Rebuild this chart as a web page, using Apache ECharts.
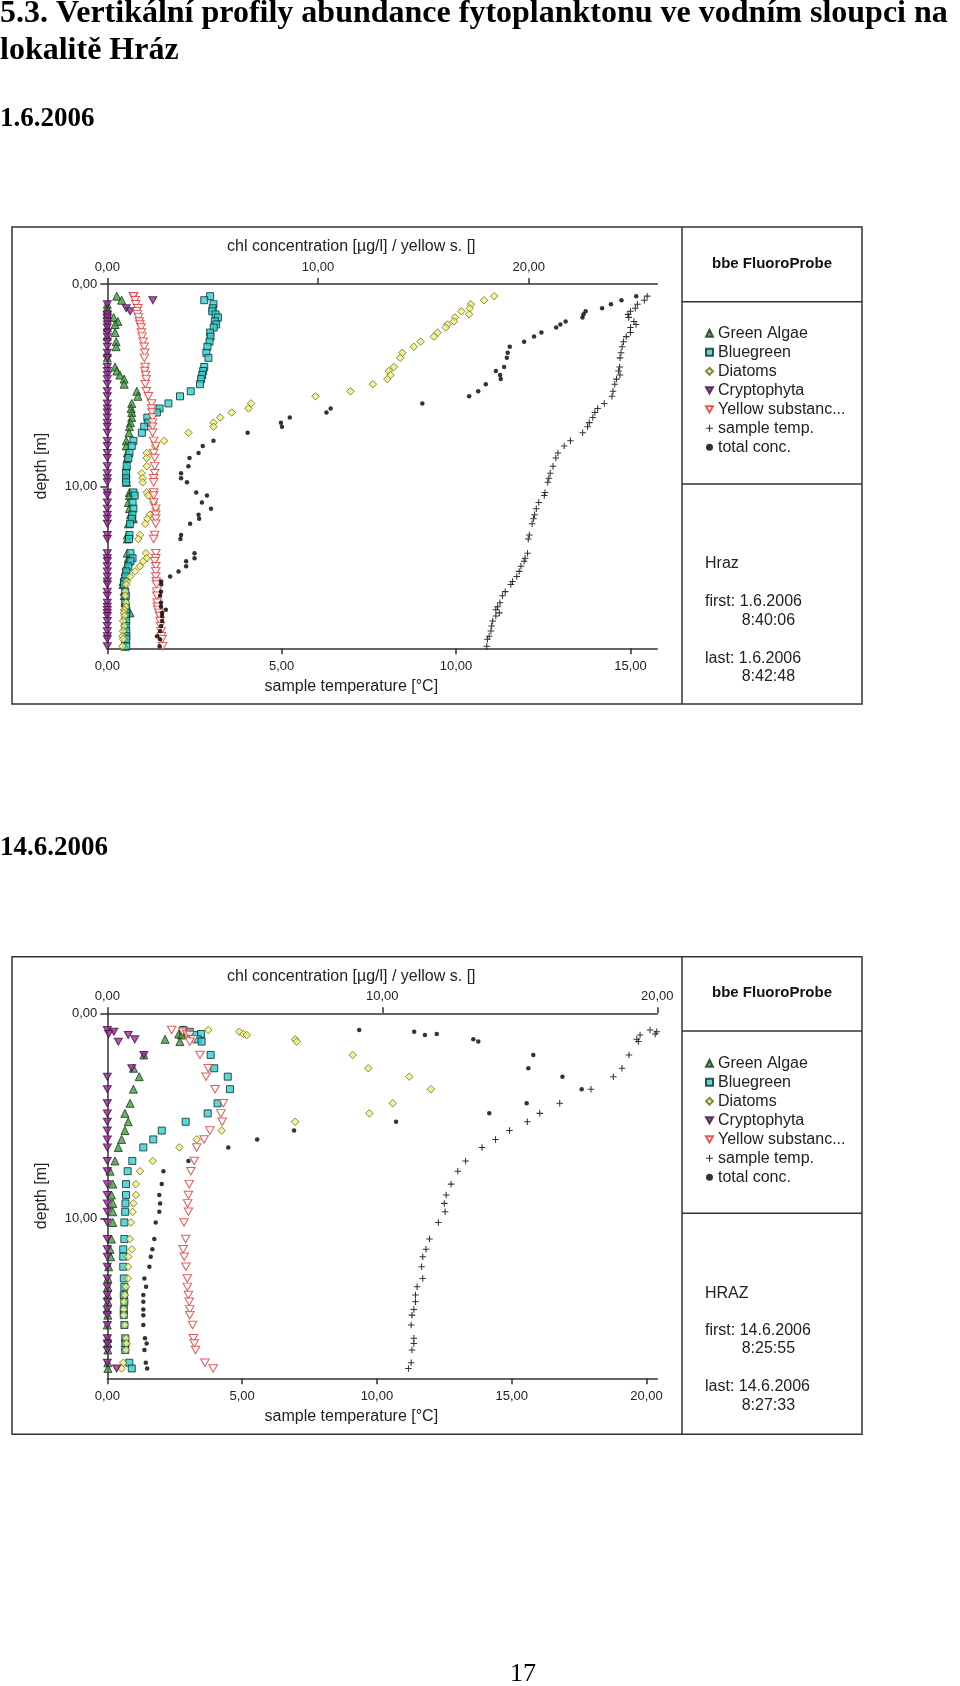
<!DOCTYPE html>
<html><head><meta charset="utf-8">
<script src="https://cdn.jsdelivr.net/npm/echarts@6/dist/echarts.min.js"></script>
<style>html,body{margin:0;padding:0;background:#fff}#c{width:960px;height:1686px}</style>
</head><body><div id="c"></div>
<script>
// ---------- Chart 1: 1.6.2006 ----------
const depth1 = [0.6,0.8,1.0,1.2,1.35,1.5,1.65,1.85,2.0,2.15,2.4,2.6,2.85,3.1,3.4,3.65,4.1,4.3,4.5,4.7,4.95,5.3,5.55,5.9,6.15,6.35,6.6,6.85,7.05,7.35,7.75,8.0,8.35,8.6,9.0,9.35,9.6,9.8,10.3,10.45,10.8,11.1,11.4,11.6,11.85,12.4,12.6,13.3,13.55,13.7,13.95,14.2,14.45,14.7,14.85,15.2,15.4,15.75,15.95,16.1,16.25,16.4,16.65,16.9,17.15,17.4,17.55,17.9];
const greenAlgae1 = [0.45,0.68,0,0,0,0,0.3,0.5,0.37,0,0.37,0,0.42,0.42,0,0,0.37,0.45,0.6,0.8,0.8,1.4,1.45,1.16,1.13,1.16,1.16,1.1,1.05,1.03,0.9,0.9,0.95,0.95,0.9,0.9,0.9,0.92,1.05,1.05,1.0,1.05,1.1,1.24,1.0,0.95,0.95,0.95,1.0,1.0,0.9,0.85,0.8,0.75,0.75,0.8,0.8,0.85,0.85,0.9,1.08,0.85,0.85,0.85,0.85,0.85,0.85,0.85];
const bluegreen1 = [4.88,4.6,5.04,5.0,4.98,5.14,5.25,5.1,5.17,5.05,4.88,4.9,4.85,4.75,4.7,4.8,4.6,4.55,4.5,4.45,4.4,3.96,3.45,2.9,2.48,2.35,1.9,1.95,1.75,1.64,1.24,1.16,1.05,1.0,0.92,0.89,0.89,0.89,1.24,1.3,1.2,1.24,1.19,1.16,1.08,1.05,1.03,1.1,1.2,1.1,1.0,0.9,0.86,0.8,0.8,0.85,0.88,0.85,0.88,0.9,0.9,0.88,0.9,0.88,0.9,0.9,0.9,0.9];
const diatoms1 = [18.36,17.88,17.25,17.2,16.8,17.17,16.5,16.45,16.14,16.06,15.67,15.5,14.87,14.55,14.0,13.9,13.6,13.36,13.44,13.29,12.6,11.54,9.88,6.82,6.7,5.9,5.36,5.04,5.04,3.85,2.7,2.27,1.87,1.87,1.87,1.63,1.68,1.68,1.87,1.95,2.2,2.3,2.03,1.9,1.8,1.55,1.47,1.83,1.87,1.7,1.55,1.32,1.08,0.92,0.9,0.85,0.85,0.9,0.88,0.8,0.78,0.82,0.75,0.8,0.75,0.72,0.75,0.72];
const cryptophyta1 = [1.24,2.16,0,0.9,1.08,0,0,0,0,0,0,0,0,0,0,0,0,0,0,0,0,0,0,0,0,0,0,0,0,0,0,0,0,0,0,0,0,0,0,0,0,0,0,0,0,0,0,0,0,0,0,0,0,0,0,0,0,0,0,0,0,0,0,0,0,0,0,0];
const yellowSubst1 = [1.24,1.32,1.35,1.45,1.4,1.43,1.48,1.52,1.55,1.6,1.62,1.65,1.7,1.75,1.78,1.76,1.8,1.78,1.82,1.85,1.8,1.85,1.95,2.1,2.1,2.12,2.15,2.15,2.15,2.15,2.2,2.3,2.2,2.25,2.25,2.25,2.2,2.2,2.2,2.2,2.2,2.3,2.3,2.3,2.3,2.25,2.2,2.3,2.3,2.25,2.3,2.3,2.3,2.32,2.33,2.35,2.35,2.37,2.38,2.4,2.45,2.48,2.5,2.52,2.55,2.57,2.6,2.63];
const sampleTemp1 = [15.48,15.4,15.2,15.14,15.0,14.93,14.95,15.1,15.16,15.0,15.0,14.88,14.8,14.76,14.73,14.7,14.69,14.66,14.7,14.6,14.55,14.5,14.47,14.25,14.06,13.98,13.92,13.82,13.77,13.63,13.28,13.1,12.92,12.86,12.78,12.7,12.66,12.63,12.55,12.53,12.37,12.3,12.25,12.22,12.18,12.1,12.07,12.05,11.98,11.95,11.86,11.81,11.74,11.62,11.57,11.41,11.33,11.26,11.19,11.14,11.24,11.14,11.05,11.02,11.0,10.95,10.9,10.88];
const totalConc1 = [25.1,24.4,23.9,23.48,22.7,22.6,22.55,21.75,21.5,21.3,20.6,20.25,19.78,19.1,19.0,18.96,18.83,18.44,18.64,18.67,17.96,17.6,17.17,14.95,10.6,10.4,8.66,8.24,8.29,6.66,5.04,4.53,4.33,3.9,3.85,3.5,3.5,3.78,4.22,4.73,4.49,4.92,4.33,4.36,3.93,3.5,3.47,4.14,4.14,3.74,3.74,3.38,2.98,2.56,2.56,2.55,2.51,2.55,2.55,2.78,2.6,2.6,2.6,2.55,2.51,2.36,2.5,2.48];

// ---------- Chart 2: 14.6.2006 ----------
const depth2 = [0.81,0.9,1.01,1.06,1.27,1.38,2.03,2.68,3.09,3.7,4.39,4.88,5.29,5.72,6.15,6.54,7.2,7.7,8.33,8.86,9.27,9.68,10.2,11.01,11.51,11.87,12.36,12.93,13.34,13.74,14.07,14.44,14.72,15.2,15.85,16.1,16.42,17.04,17.32];
const greenAlgae2 = [2.75,2.8,2.6,2.7,2.1,2.64,1.33,0.95,1.16,0.95,0.83,0.64,0.76,0.64,0.52,0.4,0.28,0.1,0.2,0.15,0.2,0.2,0.2,0.15,0.1,0.12,0.05,0.02,0.02,0.02,0.02,0,0.02,0,0.02,0.02,0.02,0.02,0.02];
const bluegreen2 = [2.76,3.0,3.41,3.16,3.29,3.43,3.76,3.89,4.38,4.46,4.01,3.65,2.85,1.98,1.67,1.31,0.91,0.74,0.68,0.68,0.66,0.65,0.62,0.62,0.58,0.58,0.58,0.6,0.62,0.6,0.62,0.6,0.6,0.62,0.65,0.66,0.65,0.8,0.89];
const diatoms2 = [3.67,4.8,4.95,5.07,6.83,6.89,8.92,9.49,10.98,11.77,10.38,9.53,6.83,4.16,3.25,2.62,1.65,1.19,1.04,1.04,0.95,0.92,0.86,0.82,0.89,0.76,0.76,0.75,0.68,0.64,0.6,0.6,0.6,0.64,0.68,0.7,0.68,0.58,0.52];
const cryptophyta2 = [0,0.24,0.05,0.76,1.0,0.4,1.33,0.89,0,0,0,0,0,0,0,0,0,0,0,0,0,0,0,0,0,0,0,0,0,0,0,0,0,0,0,0,0,0,0.34];
const yellowSubst2 = [2.34,2.74,2.89,3.0,3.13,3.0,3.37,3.67,3.59,3.92,4.22,4.13,4.18,3.73,3.52,3.25,3.16,3.04,2.98,2.95,2.92,2.95,2.79,2.85,2.76,2.8,2.86,2.91,2.91,2.95,2.98,3.0,3.0,3.1,3.13,3.16,3.21,3.55,3.85];
const sampleTemp2 = [20.13,20.38,20.32,19.76,19.64,19.7,19.35,19.09,18.77,17.94,16.78,16.04,15.58,14.92,14.4,13.9,13.29,13.0,12.75,12.57,12.5,12.53,12.28,11.95,11.82,11.7,11.66,11.7,11.49,11.43,11.43,11.37,11.3,11.27,11.37,11.37,11.3,11.27,11.17];
const totalConc2 = [9.16,11.16,11.98,11.55,13.31,13.49,15.49,15.31,16.55,17.25,15.25,13.89,10.5,6.79,5.45,4.4,2.95,2.04,1.98,1.89,1.92,1.89,1.76,1.71,1.64,1.58,1.53,1.35,1.41,1.31,1.31,1.31,1.31,1.31,1.37,1.43,1.35,1.4,1.45];

const seriesNames = ['Green Algae','Bluegreen','Diatoms','Cryptophyta','Yellow substance','sample temp.','total conc.'];

const FONT = '"Liberation Sans", Arial, sans-serif';
const SERIF = '"Liberation Serif", "Times New Roman", serif';
const AX = '#333';
const fmt = v => v.toFixed(2).replace('.', ',');

function xTop(grid, max, showMax) {
  return { type:'value', gridIndex:grid, position:'top', min:0, max:max, interval:10,
    name:'chl concentration [µg/l] / yellow s. []', nameLocation:'middle', nameGap:29,
    nameTextStyle:{fontFamily:FONT,fontSize:16,color:'#222',padding:[0,62,0,0]},
    axisLine:{show:true,onZero:false,lineStyle:{color:AX,width:1.5}},
    axisTick:{show:true,inside:false,length:6,lineStyle:{color:AX,width:1.5}},
    axisLabel:{formatter:fmt,margin:10,fontFamily:FONT,fontSize:13,color:'#222',showMinLabel:true,showMaxLabel:showMax},
    splitLine:{show:false} };
}
function xBottom(grid, max) {
  return { type:'value', gridIndex:grid, position:'bottom', min:0, max:max, interval:5,
    name:'sample temperature [°C]', nameLocation:'middle', nameGap:30,
    nameTextStyle:{fontFamily:FONT,fontSize:16,color:'#222',padding:[0,62,0,0]},
    axisLine:{show:true,onZero:false,lineStyle:{color:AX,width:1.5}},
    axisTick:{show:true,inside:false,length:6,lineStyle:{color:AX,width:1.5}},
    axisLabel:{formatter:fmt,margin:12,fontFamily:FONT,fontSize:13,color:'#222',showMinLabel:true,showMaxLabel:false},
    splitLine:{show:false} };
}
function yAx(grid, max) {
  return { type:'value', gridIndex:grid, inverse:true, min:0, max:max, interval:10,
    name:'depth [m]', nameLocation:'middle', nameRotate:90, nameGap:58,
    nameTextStyle:{fontFamily:FONT,fontSize:16,color:'#222'},
    axisLine:{show:true,onZero:false,lineStyle:{color:AX,width:1.5}},
    axisTick:{show:true,inside:false,length:7,lineStyle:{color:AX,width:1.5}},
    axisLabel:{formatter:fmt,margin:10,fontFamily:FONT,fontSize:13,color:'#222',showMinLabel:true,showMaxLabel:false},
    splitLine:{show:false} };
}

const PLUS = 'path://M4.2,0H5.8V10H4.2ZM0,4.2H10V5.8H0Z';
const DOWN = 'path://M0,0H10L5,9Z';
const styles = {
  'Green Algae': {symbol:'triangle', size:8, it:{color:'#3f9f3f',borderColor:'#1b331b',borderWidth:1}},
  'Bluegreen': {symbol:'rect', size:7, it:{color:'#2fd0d0',borderColor:'#102828',borderWidth:1}},
  'Diatoms': {symbol:'diamond', size:7.5, it:{color:'#f2f07a',borderColor:'#6a6a28',borderWidth:1}},
  'Cryptophyta': {symbol:DOWN, size:[8,7], it:{color:'#a02aa0',borderColor:'#3a103a',borderWidth:1}},
  'Yellow substance': {symbol:DOWN, size:[8.5,7.5], it:{color:'#ffffff',borderColor:'#e03030',borderWidth:1}},
  'sample temp.': {symbol:PLUS, size:6.5, it:{color:'#000'}},
  'total conc.': {symbol:'circle', size:4.5, it:{color:'#000'}}
};
function sc(name, xi, yi, vals, depths) {
  const s = styles[name];
  return { type:'scatter', name:name, xAxisIndex:xi, yAxisIndex:yi,
    data: depths.map((d,i)=>[vals[i], d]),
    symbol:s.symbol, symbolSize:s.size, itemStyle:s.it,
    silent:true, animation:false, emphasis:{disabled:true} };
}

const series = [
  sc('Green Algae',0,0,greenAlgae1,depth1),
  sc('Bluegreen',0,0,bluegreen1,depth1),
  sc('Diatoms',0,0,diatoms1,depth1),
  sc('Cryptophyta',0,0,cryptophyta1,depth1),
  sc('Yellow substance',0,0,yellowSubst1,depth1),
  sc('sample temp.',1,0,sampleTemp1,depth1),
  sc('total conc.',0,0,totalConc1,depth1),
  sc('Green Algae',2,1,greenAlgae2,depth2),
  sc('Bluegreen',2,1,bluegreen2,depth2),
  sc('Diatoms',2,1,diatoms2,depth2),
  sc('Cryptophyta',2,1,cryptophyta2,depth2),
  sc('Yellow substance',2,1,yellowSubst2,depth2),
  sc('sample temp.',3,1,sampleTemp2,depth2),
  sc('total conc.',2,1,totalConc2,depth2)
];

function legend(top) {
  return { data: seriesNames.map(n => ({name:n, icon:styles[n].symbol})),
    orient:'vertical', left:705, top:top, padding:0,
    itemWidth:7, itemHeight:7, itemGap:0, selectedMode:false,
    formatter: n => n === 'Yellow substance' ? 'Yellow substanc...' : n,
    textStyle:{fontFamily:FONT,fontSize:16,lineHeight:19,color:'#222'} };
}

function txt(t, x, y, opt) {
  return { type:'text', x:x, y:y, silent:true,
    style:Object.assign({ text:t, fill:'#222', fontFamily:FONT, fontSize:16, align:'left', verticalAlign:'middle' }, opt||{}) };
}
function ln(x1,y1,x2,y2){ return {type:'line', silent:true, shape:{x1,y1,x2,y2}, style:{stroke:AX,lineWidth:1.5}}; }
function box(x,y,w,h){ return {type:'rect', silent:true, shape:{x,y,width:w,height:h}, style:{fill:'none',stroke:AX,lineWidth:1.5}}; }
const serifB = (size) => ({fontFamily:SERIF, fontWeight:'bold', fontSize:size, fill:'#000'});

const graphic = [
  txt('5.3. Vertikální profily abundance fytoplanktonu ve vodním sloupci na', 0, 14, serifB(32)),
  txt('lokalitě Hráz', 0, 51, serifB(32)),
  txt('1.6.2006', 0, 119, serifB(27)),
  txt('14.6.2006', 0, 848, serifB(27)),
  txt('17', 523, 1674, {fontFamily:SERIF, fontSize:26, fill:'#000', align:'center'}),
  // chart 1 frame
  box(12,227,850,477), ln(682,227,682,704), ln(682,301.7,862,301.7), ln(682,484,862,484),
  txt('bbe FluoroProbe', 772, 264.3, {fontWeight:'bold', fontSize:15, align:'center', fill:'#111'}),
  txt('Hraz', 705, 563.3), txt('first: 1.6.2006', 705, 601.7), txt('8:40:06', 741.7, 621),
  txt('last: 1.6.2006', 705, 658.3), txt('8:42:48', 741.7, 676.7),
  // chart 2 frame
  box(12,956.7,850,477.6), ln(682,956.7,682,1434.3), ln(682,1031,862,1031), ln(682,1213.3,862,1213.3),
  txt('bbe FluoroProbe', 772, 993.3, {fontWeight:'bold', fontSize:15, align:'center', fill:'#111'}),
  txt('HRAZ', 705, 1293.3), txt('first: 14.6.2006', 705, 1330.7), txt('8:25:55', 741.7, 1349),
  txt('last: 14.6.2006', 705, 1387), txt('8:27:33', 741.7, 1405.3)
];

const option = {
  animation:false,
  backgroundColor:'#fff',
  grid:[
    {left:107.3, top:284, width:550, height:364.3, containLabel:false},
    {left:107.3, top:1013.3, width:550, height:365, containLabel:false}
  ],
  xAxis:[ xTop(0,26.1,false), xBottom(0,15.77), xTop(1,20,true), xBottom(1,20.4) ],
  yAxis:[ yAx(0,18), yAx(1,17.8) ],
  legend:[ legend(323.8), legend(1053.8) ],
  graphic: graphic,
  series: series
};
const chart = echarts.init(document.getElementById('c'), null, {renderer:'canvas'});
chart.setOption(option);
</script>
</body></html>
